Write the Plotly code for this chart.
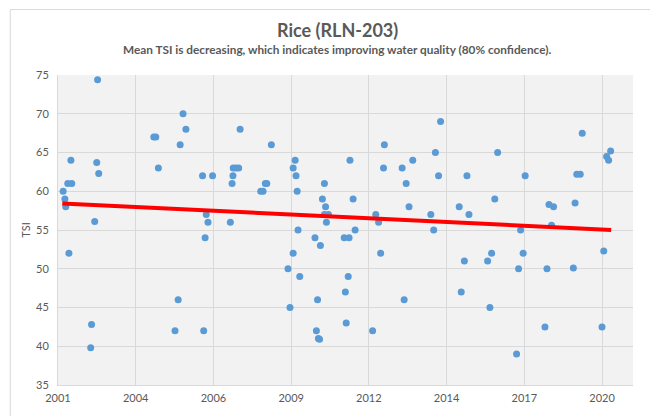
import plotly.graph_objects as go

# Sample dates (decimal years) and TSI values
years = [
    2002.73, 2005.71, 2005.81, 2004.69, 2004.76, 2005.61, 2001.80, 2002.70, 2002.77, 2004.85,
    2006.39, 2001.69, 2001.83, 2001.53, 2001.59, 2001.62, 2002.63, 2006.52, 2006.58, 2006.48,
    2001.73, 2005.54, 2002.52, 2002.49, 2005.43, 2006.43, 2006.74, 2007.70, 2008.79, 2007.46,
    2007.56, 2007.65, 2007.45, 2007.42, 2007.36, 2008.58, 2008.63, 2008.42, 2008.50, 2009.62,
    2009.55, 2009.65, 2009.69, 2009.72, 2009.55, 2009.37, 2009.78, 2009.44, 2010.64, 2010.57,
    2010.68, 2010.64, 2010.78, 2010.71, 2010.31, 2010.50, 2010.40, 2010.36, 2010.43, 2010.47,
    2011.53, 2011.64, 2011.71, 2011.33, 2011.50, 2011.47, 2011.37, 2011.40, 2014.69, 2012.73,
    2014.51, 2016.68, 2012.70, 2013.35, 2013.72, 2014.62, 2015.61, 2013.49, 2016.58, 2013.59,
    2015.34, 2012.43, 2014.35, 2015.68, 2012.53, 2014.45, 2012.60, 2015.52, 2016.33, 2016.47,
    2015.41, 2013.42, 2016.41, 2012.32, 2019.63, 2020.62, 2020.48, 2020.55, 2017.64, 2019.44,
    2019.56, 2018.47, 2018.63, 2019.38, 2018.56, 2017.48, 2017.57, 2017.41, 2018.40, 2019.32,
    2020.38, 2018.33, 2020.32, 2017.34,
]
tsi = [
    74.4, 70.0, 68.0, 67.0, 67.0, 66.0, 64.0, 63.7, 62.3, 63.0,
    62.0, 61.0, 61.0, 60.0, 59.0, 58.0, 56.1, 57.0, 56.0, 54.0,
    52.0, 46.0, 42.8, 39.8, 42.0, 42.0, 62.0, 68.0, 66.0, 63.0,
    63.0, 63.0, 62.0, 61.0, 56.0, 61.0, 61.0, 60.0, 60.0, 64.0,
    63.0, 62.0, 60.0, 55.0, 52.0, 50.0, 49.0, 45.0, 61.0, 59.0,
    58.0, 57.0, 57.0, 56.0, 54.0, 53.0, 46.0, 42.0, 41.0, 40.9,
    64.0, 59.0, 55.0, 54.0, 54.0, 49.0, 47.0, 43.0, 69.0, 66.0,
    65.0, 65.0, 63.0, 63.0, 64.0, 62.0, 62.0, 61.0, 59.0, 58.0,
    58.0, 57.0, 57.0, 57.0, 56.0, 55.0, 52.0, 51.0, 51.0, 52.0,
    47.0, 46.0, 45.0, 42.0, 67.5, 65.2, 64.5, 64.0, 62.0, 62.2,
    62.2, 58.3, 58.0, 58.5, 55.6, 55.0, 52.0, 50.0, 50.0, 50.1,
    52.3, 42.5, 42.5, 39.0,
]

# Trend line end points
trend_x = [2001.50, 2020.64]
trend_y = [58.42, 55.01]

# Axis ticks (Excel date axis, major unit ~2.71 yr)
tick_vals = [2001.35, 2004.06, 2006.77, 2009.48, 2012.19, 2014.90, 2017.61, 2020.32]
tick_text = ["2001", "2004", "2006", "2009", "2012", "2014", "2017", "2020"]

TXT = "#595959"
FONT = "Lato"

fig = go.Figure()
fig.add_trace(go.Scatter(
    x=years, y=tsi, mode="markers",
    marker=dict(color="#5B9BD5", size=7, line=dict(width=0)),
    showlegend=False, hoverinfo="x+y",
))
fig.add_trace(go.Scatter(
    x=trend_x, y=trend_y, mode="lines",
    line=dict(color="#FF0000", width=4),
    showlegend=False, hoverinfo="skip",
))

# page body has an 8px margin, so the figure is drawn 8px smaller and offset
fig.update_layout(
    width=650, height=408,
    margin=dict(l=50, r=25, t=67, b=28),
    paper_bgcolor="white",
    plot_bgcolor="#F2F2F2",
    font=dict(family=FONT, color=TXT, size=11),
    xaxis=dict(
        range=[2001.35, 2021.40],
        tickvals=tick_vals, ticktext=tick_text,
        showgrid=True, gridcolor="#D9D9D9", gridwidth=1,
        zeroline=False, showline=True, linecolor="#D9D9D9",
        ticks="outside", ticklen=3, tickcolor="rgba(0,0,0,0)",
        tickfont=dict(size=11, color=TXT, family=FONT),
        fixedrange=True,
    ),
    yaxis=dict(
        range=[35, 75], dtick=5,
        showgrid=True, gridcolor="#D9D9D9", gridwidth=1,
        zeroline=False, showline=True, linecolor="#D9D9D9",
        ticks="outside", ticklen=6, tickcolor="rgba(0,0,0,0)",
        tickfont=dict(size=11, color=TXT, family=FONT),
        title=dict(text="TSI", font=dict(size=11, color=TXT, family=FONT), standoff=3),
        fixedrange=True,
    ),
    annotations=[
        dict(text="<b>Rice (RLN-203)</b>", xref="paper", yref="paper",
             x=0.486, y=1.144, xanchor="center", yanchor="middle", showarrow=False,
             font=dict(size=18, color=TXT, family=FONT)),
        dict(text="<b>Mean TSI is decreasing, which indicates improving water quality (80% confidence).</b>",
             xref="paper", yref="paper",
             x=0.486, y=1.083, xanchor="center", yanchor="middle", showarrow=False,
             font=dict(size=11.8, color=TXT, family=FONT)),
    ],
    shapes=[
        dict(type="rect", xref="paper", yref="paper",
             x0=-0.083, x1=1.2, y0=-0.3, y1=1.211,
             line=dict(color="#D9D9D9", width=1), layer="below"),
    ],
)

fig.write_html("out.html")
